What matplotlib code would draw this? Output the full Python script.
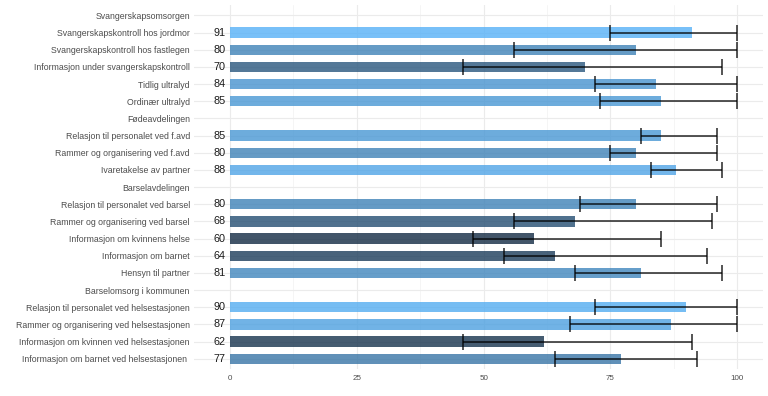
import numpy as np
import matplotlib
matplotlib.use('Agg')
import matplotlib.pyplot as plt
from matplotlib.colors import LinearSegmentedColormap, Normalize

plt.rcParams['font.family'] = ['Liberation Sans', 'DejaVu Sans']

# rows from top to bottom; None = section header
labels = [
    'Svangerskapsomsorgen',
    'Svangerskapskontroll hos jordmor',
    'Svangerskapskontroll hos fastlegen',
    'Informasjon under svangerskapskontroll',
    'Tidlig ultralyd',
    'Ordinær ultralyd',
    'Fødeavdelingen',
    'Relasjon til personalet ved f.avd',
    'Rammer og organisering ved f.avd',
    'Ivaretakelse av partner',
    'Barselavdelingen',
    'Relasjon til personalet ved barsel',
    'Rammer og organisering ved barsel',
    'Informasjon om kvinnens helse',
    'Informasjon om barnet',
    'Hensyn til partner',
    'Barselomsorg i kommunen',
    'Relasjon til personalet ved helsestasjonen',
    'Rammer og organisering ved helsestasjonen',
    'Informasjon om kvinnen ved helsestasjonen',
    'Informasjon om barnet ved helsestasjonen ',
]
# header rows get None
values = [None, 91, 80, 70, 84, 85, None, 85, 80, 88, None, 80, 68, 60, 64, 81,
          None, 90, 87, 62, 77]
lower = [None, 75, 56, 46, 72, 73, None, 81, 75, 83, None, 69, 56, 48, 54, 68,
         None, 72, 67, 46, 64]
upper = [None, 100, 100, 97, 100, 100, None, 96, 96, 97, None, 96, 95, 85, 94, 97,
         None, 100, 100, 91, 92]

cmap = LinearSegmentedColormap.from_list('gg', ['#132B43', '#56B1F7'])
vals_num = [v for v in values if v is not None]
norm = Normalize(min(vals_num), max(vals_num))

fig = plt.figure(figsize=(7.68, 3.96), dpi=100)
ax = fig.add_axes([0.2526, 0.068, 0.7409, 0.919])

y = np.arange(len(labels))
for i, v in enumerate(values):
    if v is None:
        continue
    ax.barh(y[i], v, height=0.6, color=cmap(norm(v)), alpha=0.8, zorder=2)
    ax.text(-2, y[i], str(v), ha='center', va='center', fontsize=7.8,
            color='#1a1a1a', zorder=3)
    ax.errorbar(v, y[i], xerr=[[v - lower[i]], [upper[i] - v]], fmt='none',
                ecolor='black', elinewidth=1.1, capsize=6, capthick=1.1,
                alpha=0.85, zorder=3)

ax.set_yticks(y)
ax.set_yticklabels(labels, fontsize=6.3, color='#4d4d4d')
ax.set_xticks([0, 25, 50, 75, 100])
ax.set_xticklabels(['0', '25', '50', '75', '100'], fontsize=5.8, color='#4d4d4d')
ax.set_xticks([12.5, 37.5, 62.5, 87.5], minor=True)
ax.set_xlim(-7.1, 105.1)
ax.set_ylim(len(labels) - 0.4, -0.6)

ax.tick_params(axis='both', which='both', length=0)
ax.tick_params(axis='y', pad=3)
ax.tick_params(axis='x', pad=4)
ax.grid(True, which='major', color='#ebebeb', linewidth=0.8, zorder=0)
ax.grid(True, which='minor', axis='x', color='#f2f2f2', linewidth=0.5, zorder=0)
ax.set_axisbelow(True)
for s in ax.spines.values():
    s.set_visible(False)

fig.savefig('out.png', dpi=100)
